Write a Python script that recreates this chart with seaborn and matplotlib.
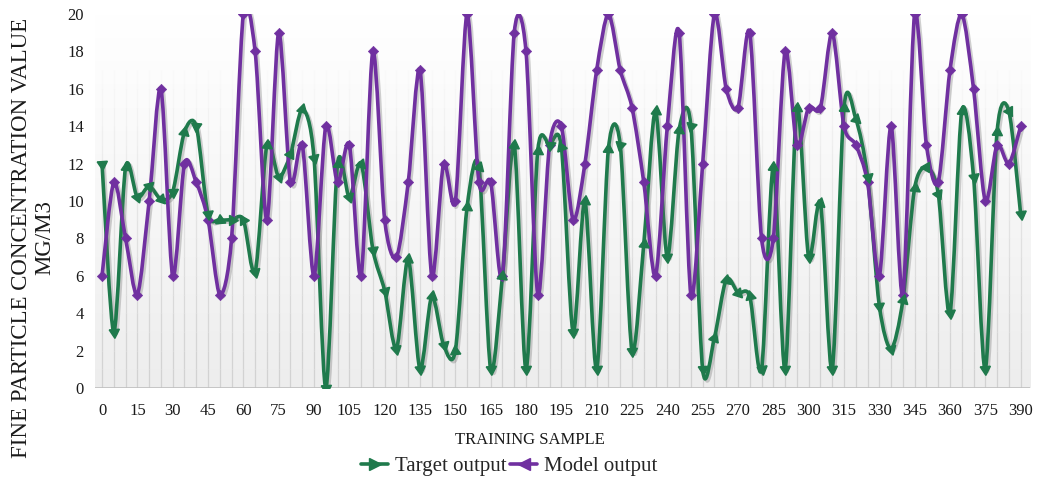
import numpy as np
import pandas as pd
import matplotlib
matplotlib.use('Agg')
import matplotlib.pyplot as plt
import matplotlib.patheffects as pe
import seaborn as sns
from matplotlib.path import Path
from matplotlib.patches import PathPatch
from matplotlib.lines import Line2D
from matplotlib.markers import MarkerStyle
from matplotlib.colors import LinearSegmentedColormap

# data (one point every 5 samples)
samples = list(range(0, 391, 5))
target_output = [12, 3, 11.8, 10.2, 10.8, 10.1, 10.5, 13.7, 14, 9.3, 9,
                 9, 9, 6.2, 13, 11.3, 12.5, 14.9, 12.3, 0, 12, 10.2, 12,
                 7.4, 5.2, 2.1, 6.9, 1, 4.9, 2.3, 2, 9.7, 11.8, 1,
                 6, 13, 1, 12.7, 13, 12.9, 3, 10, 1, 12.8, 13,
                 2, 7.7, 14.8, 7, 13.8, 14, 1, 2.7, 5.8, 5.1, 4.9,
                 1, 11.8, 1, 15, 7, 9.9, 1, 15, 14.4, 11.3, 4.4,
                 2.1, 4.7, 10.7, 11.8, 10.4, 4, 14.8, 11.3, 1, 13.7, 14.8, 9.3]
model_output = [6, 11, 8, 5, 10, 16, 6, 12, 11, 9, 5,
                8, 20, 18, 9, 19, 11, 13, 6, 14, 11, 13, 6,
                18, 9, 7, 11, 17, 6, 12, 10, 20, 11, 11,
                6, 19, 18, 5, 13, 14, 9, 12, 17, 20, 17,
                15, 11, 6, 14, 19, 5, 12, 20, 16, 15, 19,
                8, 8, 18, 13, 15, 15, 19, 14, 13, 11, 6,
                14, 5, 20, 13, 11, 17, 20, 16, 10, 13, 12, 14]
x_ticks = list(range(0, 391, 15))
y_ticks = list(range(0, 21, 2))

df = pd.DataFrame({'sample': samples, 'Target output': target_output, 'Model output': model_output})

green = '#1f7a4c'
purple = '#7030a0'

sns.set_theme(style='white')
plt.rcParams['font.family'] = ['Liberation Serif', 'DejaVu Serif']


def smooth_path(xs, ys, k=7.0):
    # smoothed line drawn as cubic Bezier segments (like Excel's "smoothed line")
    pts = np.column_stack([xs, ys]).astype(float)
    ext = np.vstack([pts[0], pts, pts[-1]])
    verts = [pts[0]]
    codes = [Path.MOVETO]
    for i in range(len(pts) - 1):
        p0, p1, p2, p3 = ext[i], ext[i + 1], ext[i + 2], ext[i + 3]
        verts += [p1 + (p2 - p0) / k, p2 - (p3 - p1) / k, p2]
        codes += [Path.CURVE4] * 3
    return Path(verts, codes)


fig = plt.figure(figsize=(10.39, 4.8), dpi=100)
ax = fig.add_axes([0.0914, 0.1917, 0.900, 0.779])
ax.set_xlim(-3, 394)
ax.set_ylim(0, 20)

# soft gradient background
cmap = LinearSegmentedColormap.from_list('bg', ['#ededed', '#f7f7f7', '#ffffff'])
grad = np.linspace(0, 1, 256).reshape(-1, 1)
ax.imshow(grad, extent=[-3, 394, 0, 20], origin='lower', aspect='auto', cmap=cmap, zorder=0)

# vertical gridlines fading towards the top
for i in range(20):
    ax.vlines(samples, i, i + 1, color='#d2d2d2', lw=0.9, alpha=max(0.0, 1 - i / 17), zorder=1)
ax.axhline(0, color='#bfbfbf', lw=1.2, zorder=2)

shadow = [pe.SimpleLineShadow(offset=(1.5, -1.5), shadow_color='#666666', alpha=0.3), pe.Normal()]
for col, color in [('Target output', green), ('Model output', purple)]:
    patch = PathPatch(smooth_path(df['sample'], df[col]), fill=False, edgecolor=color, lw=2.6,
                      zorder=3, capstyle='round', joinstyle='round')
    patch.set_path_effects(shadow)
    ax.add_patch(patch)

# model markers (diamonds)
sns.scatterplot(data=df, x='sample', y='Model output', marker='D', s=28, color=purple,
                edgecolor=purple, zorder=5, ax=ax, legend=False, clip_on=True)

# target markers: arrowheads pointing along the incoming segment
fig.canvas.draw()
disp = ax.transData.transform(np.column_stack([df['sample'], df['Target output']]))
for i in range(len(df)):
    j = i - 1 if i > 0 else i + 1
    d = disp[i] - disp[j] if i > 0 else disp[j] - disp[i]
    ang = np.degrees(np.arctan2(d[1], d[0])) - 90
    ax.plot(df['sample'][i], df['Target output'][i], marker=MarkerStyle((3, 0, ang)),
            ms=8.5, color=green, mec=green, zorder=5, clip_on=True)

ax.set_xticks(x_ticks)
ax.set_yticks(y_ticks)
ax.tick_params(axis='both', length=0, labelsize=12, colors='#1a1a1a')
ax.tick_params(axis='x', pad=11)
ax.tick_params(axis='y', pad=8)
for s in ax.spines.values():
    s.set_visible(False)
ax.set_xlabel('')
ax.set_ylabel('')

fig.text(0.51, 1 - 440 / 480, 'TRAINING SAMPLE', ha='center', va='center', fontsize=12, color='#1a1a1a')
fig.text(0.032, 0.505, 'FINE PARTICLE CONCENTRATION VALUE\nMG/M3', rotation=90, ha='center',
         va='center', multialignment='center', fontsize=16.5, color='#1a1a1a', linespacing=1.15)

handles = [Line2D([], [], color=green, lw=2.6, marker='>', ms=8),
           Line2D([], [], color=purple, lw=2.6, marker='<', ms=8)]
fig.legend(handles, ['Target output', 'Model output'], loc='center', bbox_to_anchor=(0.49, 0.028),
           ncol=2, frameon=False, fontsize=15, handlelength=1.3, handletextpad=0.3,
           columnspacing=0.2, borderpad=0)

fig.savefig('out.png', dpi=100)
